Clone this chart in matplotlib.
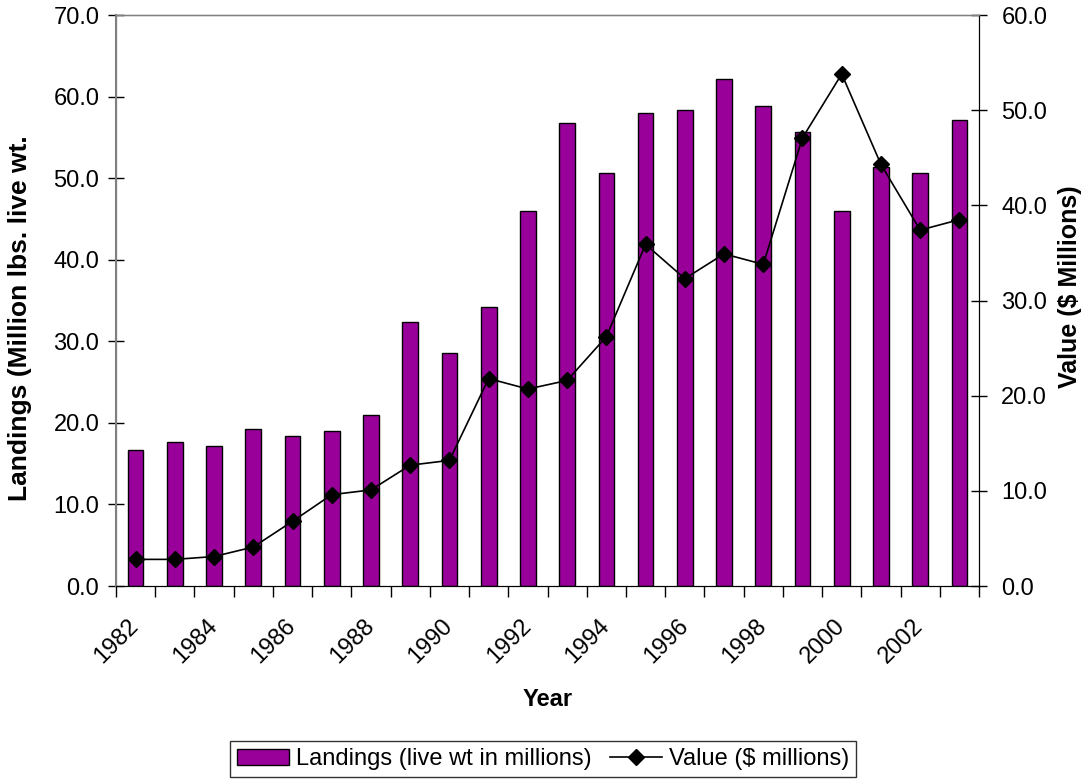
import numpy as np
import matplotlib
matplotlib.use("Agg")
import matplotlib.pyplot as plt
from matplotlib.transforms import ScaledTranslation

years = list(range(1982, 2004))
landings = [16.7, 17.6, 17.2, 19.2, 18.4, 19.0, 21.0, 32.4, 28.6, 34.2, 46.0,
            56.8, 50.6, 58.0, 58.4, 62.2, 58.8, 55.7, 46.0, 51.4, 50.6, 57.1]
value = [2.8, 2.8, 3.1, 4.1, 6.8, 9.6, 10.1, 12.7, 13.2, 21.8, 20.7,
         21.6, 26.2, 35.9, 32.3, 34.9, 33.8, 47.1, 53.8, 44.3, 37.4, 38.5]
label_years = years[::2]

plt.rcParams["font.family"] = ["Liberation Sans", "DejaVu Sans"]
FS = 17

fig = plt.figure(figsize=(10.86, 7.82), dpi=100)
ax = fig.add_axes([0.1068, 0.2506, 0.7947, 0.7302])
ax2 = ax.twinx()

x = np.arange(len(years))
bars = ax.bar(x, landings, width=0.4, color="#990099", edgecolor="black",
              linewidth=1.0, label="Landings (live wt in millions)", zorder=2)
line, = ax2.plot(x, value, color="black", linewidth=1.2, marker="D",
                 markersize=8, label="Value ($ millions)", zorder=3)

ax.set_xlim(-0.5, len(years) - 0.5)
ax.set_ylim(0, 70)
ax2.set_ylim(0, 60)
ax.set_yticks(np.arange(0, 71, 10))
ax2.set_yticks(np.arange(0, 61, 10))
ax.set_yticklabels([f"{v:.1f}" for v in np.arange(0, 71, 10)], fontsize=FS)
ax2.set_yticklabels([f"{v:.1f}" for v in np.arange(0, 61, 10)], fontsize=FS)
ax.tick_params(axis="y", direction="inout", length=12, width=1, pad=6)
ax2.tick_params(axis="y", direction="inout", length=12, width=1, pad=10)

ax.set_xticks(x[::2])
ax.set_xticklabels([str(y) for y in label_years], fontsize=FS, rotation=45,
                   ha="right", va="center", rotation_mode="anchor")
shift = ScaledTranslation(-0.10, 0, fig.dpi_scale_trans)
for lab in ax.get_xticklabels():
    lab.set_transform(lab.get_transform() + shift)
ax.set_xticks(np.arange(-0.5, len(years), 1), minor=True)
ax.tick_params(axis="x", which="major", length=0, pad=26)
ax.tick_params(axis="x", which="minor", direction="out", length=8, width=1)

for s in ["top", "left"]:
    ax2.spines[s].set_color("#808080")
ax2.spines["top"].set_linewidth(1.0)
ax2.spines["left"].set_linewidth(1.5)

ax.set_xlabel("Year", fontsize=FS, fontweight="bold")
ax.xaxis.set_label_coords(0.5, -0.178)
ax.set_ylabel("Landings (Million lbs. live wt.", fontsize=19, fontweight="bold")
ax.yaxis.set_label_coords(-0.097, 0.47)
ax2.set_ylabel("Value ($ Millions)", fontsize=18, fontweight="bold")
ax2.yaxis.set_label_coords(1.091, 0.525)

leg = fig.legend(handles=[bars, line], loc="center", bbox_to_anchor=(0.50, 0.029),
                 ncol=2, fontsize=FS, frameon=True, fancybox=False,
                 edgecolor="black", handlelength=2.2, columnspacing=0.8,
                 handletextpad=0.3, borderpad=0.3)
leg.get_frame().set_linewidth(1.0)

fig.savefig("out.png", dpi=100)
